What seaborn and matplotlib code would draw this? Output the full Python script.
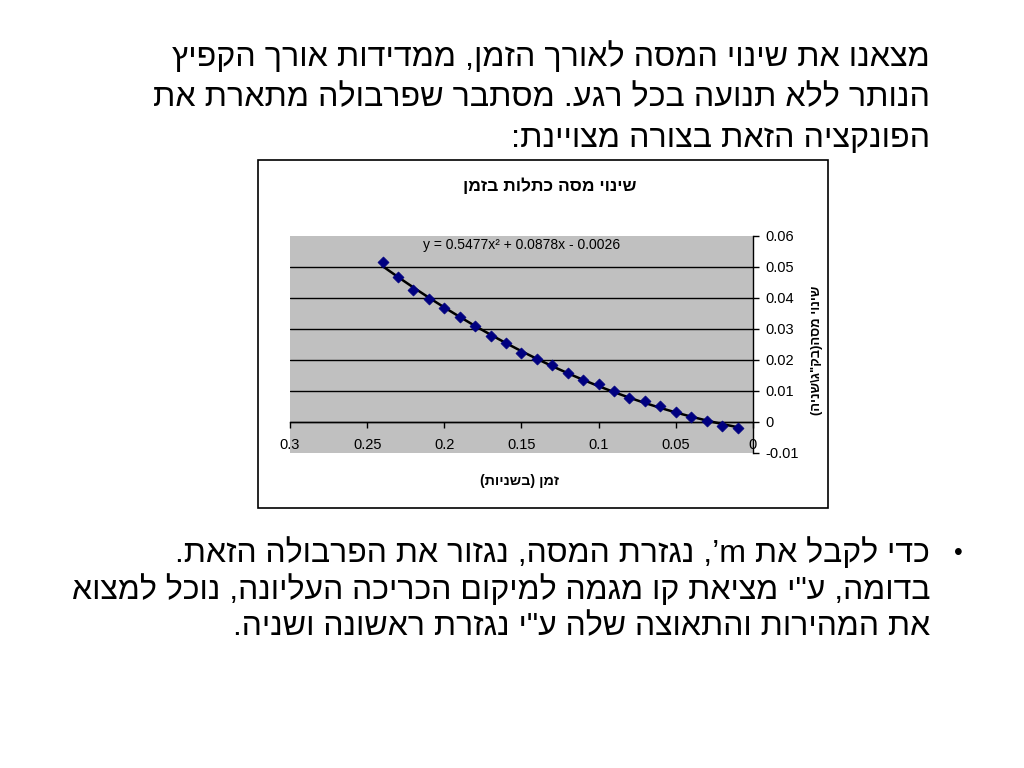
import re
import numpy as np
import pandas as pd
import matplotlib
matplotlib.use('Agg')
import matplotlib.pyplot as plt
import seaborn as sns
from matplotlib.patches import Rectangle

# measured points: time (seconds) and mass change
time_s = [0.24, 0.23, 0.22, 0.21, 0.20, 0.19, 0.18, 0.17, 0.16, 0.15, 0.14, 0.13,
          0.12, 0.11, 0.10, 0.09, 0.08, 0.07, 0.06, 0.05, 0.04, 0.03, 0.02, 0.01]
mass_change = [0.0517, 0.0469, 0.0426, 0.0396, 0.0367, 0.0337, 0.0309, 0.0277,
               0.0254, 0.0222, 0.0203, 0.0183, 0.0157, 0.0136, 0.0122, 0.0101,
               0.0078, 0.0067, 0.0050, 0.0031, 0.0016, 0.0004, -0.0012, -0.0019]

x_ticks = [0.3, 0.25, 0.2, 0.15, 0.1, 0.05, 0]
x_tick_labels = ['0.3', '0.25', '0.2', '0.15', '0.1', '0.05', '0']
y_ticks = [-0.01, 0, 0.01, 0.02, 0.03, 0.04, 0.05, 0.06]
y_tick_labels = ['-0.01', '0', '0.01', '0.02', '0.03', '0.04', '0.05', '0.06']

chart_title = 'שינוי מסה כתלות בזמן'
x_label = 'זמן (בשניות)'
y_label = 'שינוי מסה(בק"ג\\שניה)'
equation = 'y = 0.5477x² + 0.0878x - 0.0026'

intro_lines = [
    'מצאנו את שינוי המסה לאורך הזמן, ממדידות אורך הקפיץ',
    'הנותר ללא תנועה בכל רגע. מסתבר שפרבולה מתארת את',
    'הפונקציה הזאת בצורה מצויינת:',
]
bullet_lines = [
    'כדי לקבל את m’, נגזרת המסה, נגזור את הפרבולה הזאת.',
    'בדומה, ע"י מציאת קו מגמה למיקום הכריכה העליונה, נוכל למצוא',
    'את המהירות והתאוצה שלה ע"י נגזרת ראשונה ושניה.',
]

MIRROR = str.maketrans('()', ')(')


def rtl(s):
    """matplotlib has no bidi support: put a right-to-left string in visual order."""
    runs = re.findall(r'[A-Za-z0-9]+|[^A-Za-z0-9]+', s)
    out = []
    for run in reversed(runs):
        if re.match(r'[A-Za-z0-9]', run):
            out.append(run)
        else:
            out.append(run[::-1].translate(MIRROR))
    return ''.join(out)


sns.set_style('white')
plt.rcParams['font.family'] = ['Liberation Sans', 'DejaVu Sans']
plt.rcParams['text.color'] = 'black'
plt.rcParams['xtick.color'] = 'black'
plt.rcParams['ytick.color'] = 'black'

df = pd.DataFrame({'t': time_s, 'dm': mass_change})

fig = plt.figure(figsize=(10.24, 7.68), dpi=100)
fig.patch.set_facecolor('white')

# chart frame
fig.patches.append(Rectangle((0.252, 0.3385), 0.5566, 0.4531, transform=fig.transFigure,
                             facecolor='white', edgecolor='black', linewidth=1.2, zorder=-1))

ax = fig.add_axes([0.2832, 0.4102, 0.4521, 0.2826])
ax.set_facecolor('#C0C0C0')

# quadratic trendline + measured points
sns.regplot(data=df, x='t', y='dm', order=2, ci=None, scatter=False, ax=ax,
            line_kws={'color': 'black', 'linewidth': 1.8, 'zorder': 3})
sns.scatterplot(data=df, x='t', y='dm', marker='D', s=32, color='#000080',
                edgecolor='#000080', ax=ax, zorder=4)

ax.set_xlim(0.3, 0)
ax.set_ylim(-0.01, 0.06)
ax.set_xticks(x_ticks)
ax.set_xticklabels(x_tick_labels)
ax.set_yticks(y_ticks)
ax.set_yticklabels(y_tick_labels)

ax.spines['top'].set_visible(False)
ax.spines['left'].set_visible(False)
ax.spines['bottom'].set_position(('data', 0))
for side in ['bottom', 'right']:
    ax.spines[side].set_color('black')
    ax.spines[side].set_linewidth(1.0)
ax.yaxis.tick_right()
ax.tick_params(axis='y', direction='out', length=4, width=1, pad=5, labelsize=10.5,
               color='black', right=True, left=False)
ax.tick_params(axis='x', direction='out', length=4, width=1, pad=7.5, labelsize=10.5,
               color='black', bottom=True)

ax.grid(axis='y', color='black', linewidth=1.0)
ax.grid(axis='x', visible=False)
gl = ax.get_ygridlines()
gl[0].set_visible(False)
gl[-1].set_visible(False)
ax.set_xlabel('')
ax.set_ylabel('')

ax.text(0.5, 0.96, equation, transform=ax.transAxes, ha='center', va='center', fontsize=10)

fig.text(550 / 1024, 1 - 186 / 768, rtl(chart_title), ha='center', va='center',
         fontsize=12.5, fontweight='bold')
fig.text(520 / 1024, 1 - 481 / 768, rtl(x_label), ha='center', va='center',
         fontsize=10.3, fontweight='bold')
fig.text(817 / 1024, 1 - 350 / 768, rtl(y_label), ha='center', va='center',
         fontsize=9.4, fontweight='bold', rotation=90)

# slide text
for i, line in enumerate(intro_lines):
    fig.text(930 / 1024, 1 - (57 + 41 * i) / 768, rtl(line), ha='right', va='center',
             fontsize=23.2)
for i, line in enumerate(bullet_lines):
    fig.text(930 / 1024, 1 - (553 + 37 * i) / 768, rtl(line), ha='right', va='center',
             fontsize=23)
fig.text(958 / 1024, 1 - 553 / 768, '•', ha='center', va='center', fontsize=18)

fig.savefig('out.png', dpi=100, facecolor='white')
